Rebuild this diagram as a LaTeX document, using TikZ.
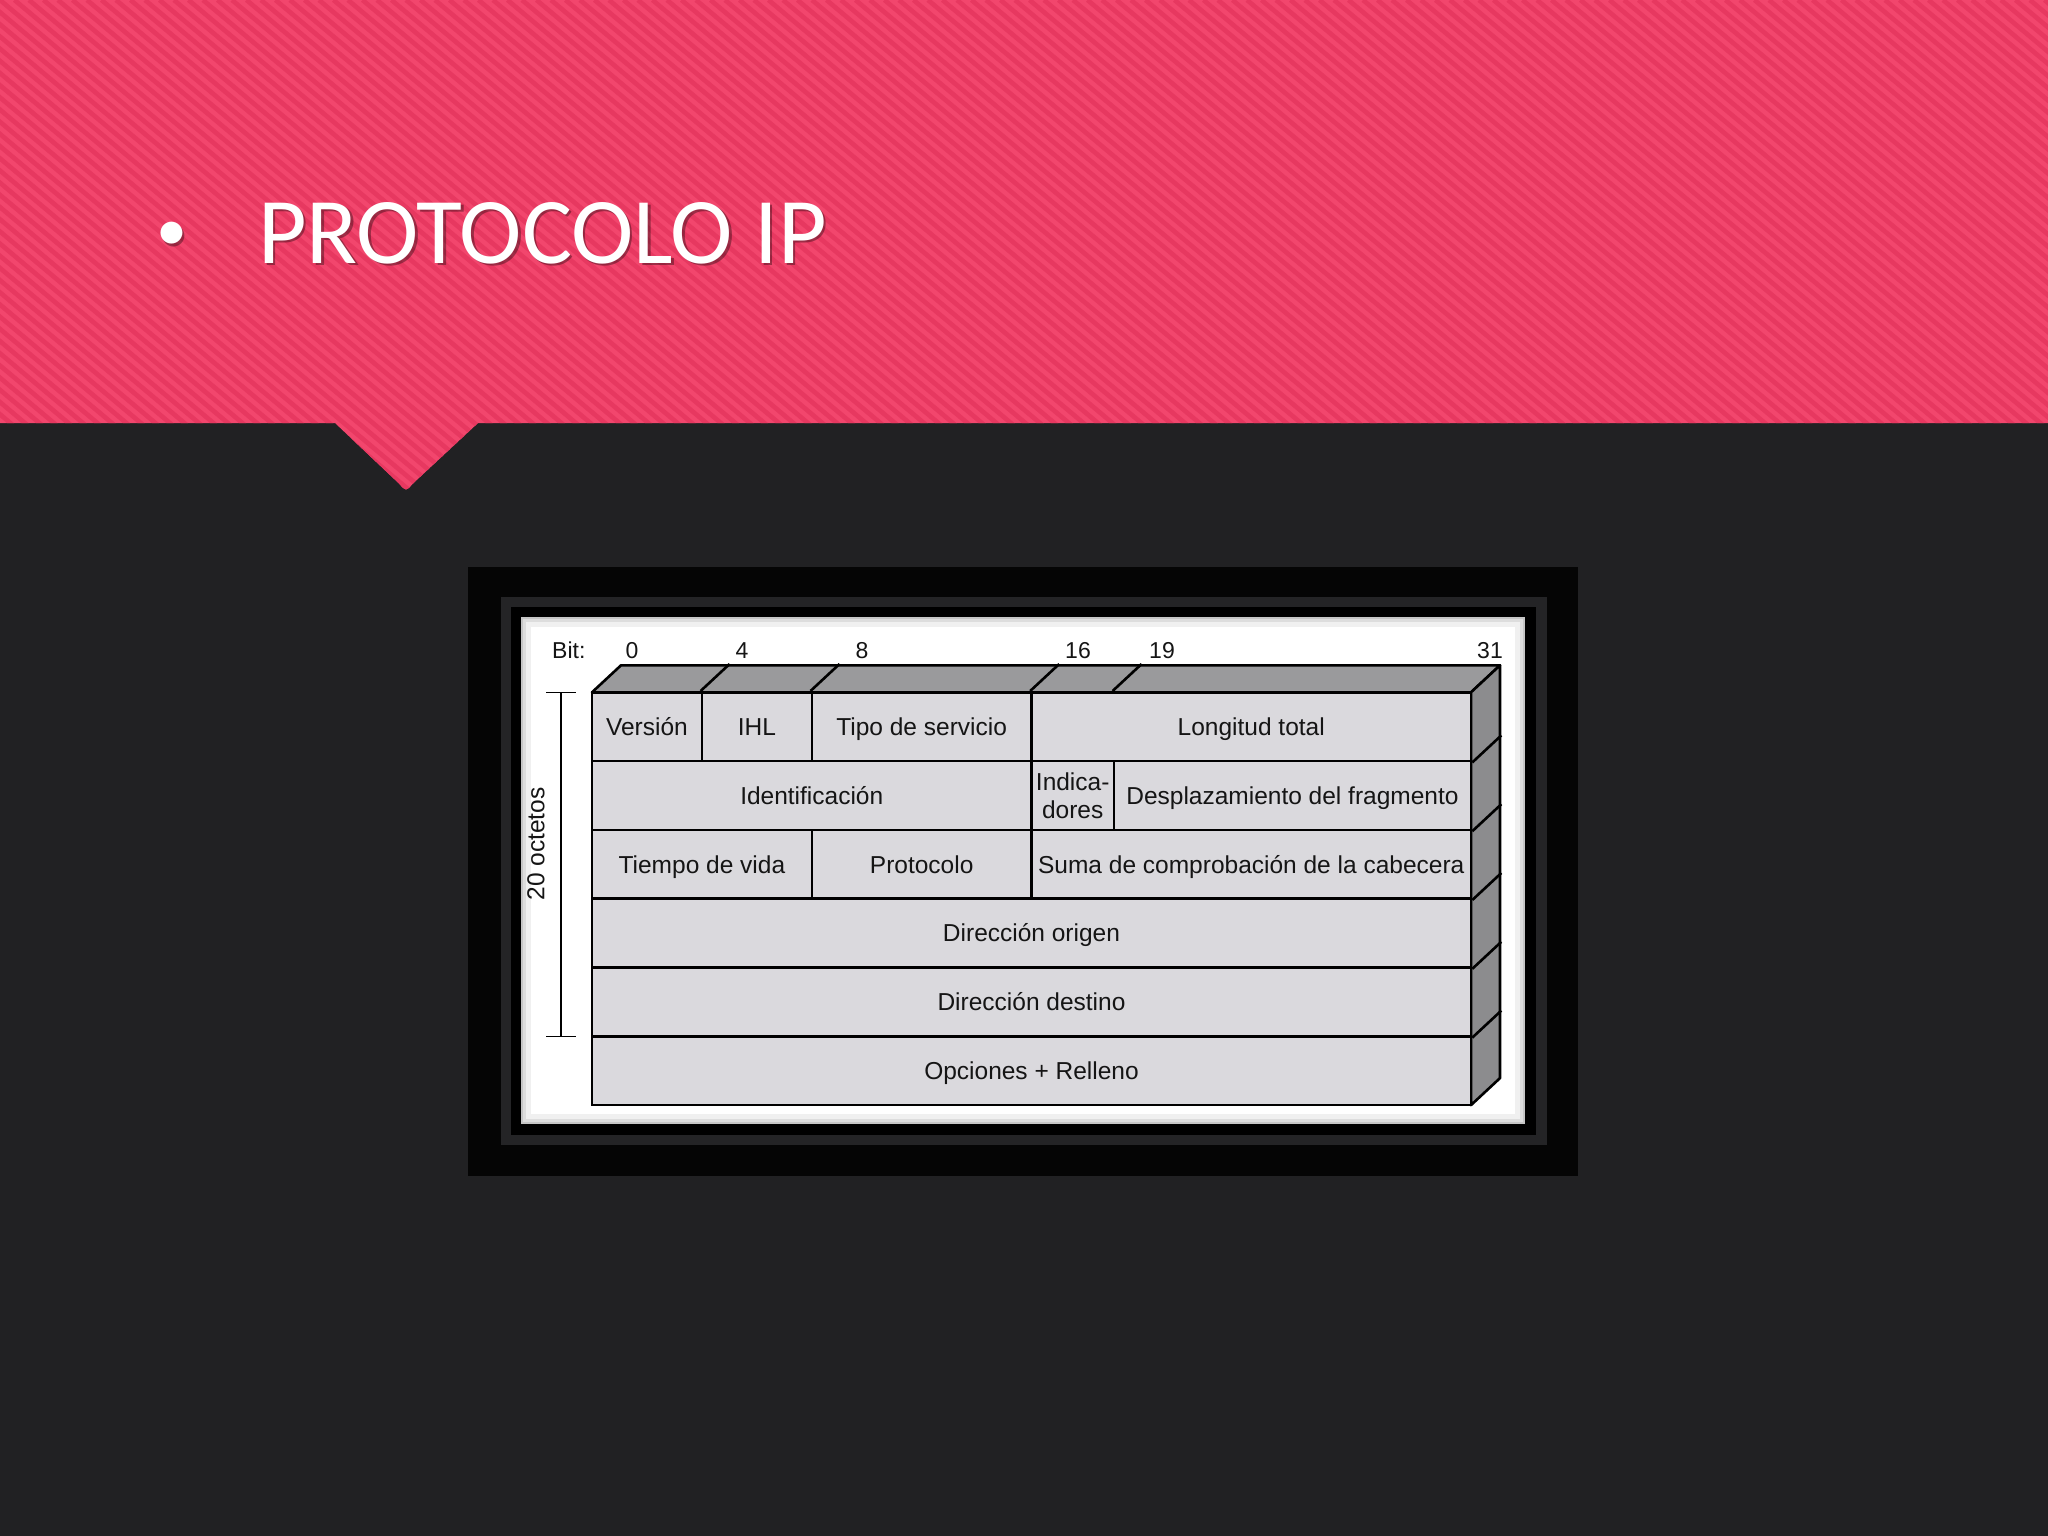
\documentclass[tikz,border=0pt]{standalone}
\usepackage{fontspec}
\setmainfont{Liberation Sans}
\newfontfamily\titlefont{Carlito}
\usetikzlibrary{calc}
\definecolor{bg}{HTML}{212123}
\definecolor{pinkA}{HTML}{F2466D}
\definecolor{pinkB}{HTML}{E73860}
\definecolor{cellgray}{HTML}{DAD9DD}
\definecolor{topface}{HTML}{9A9A9C}
\definecolor{sideface}{HTML}{8C8C8E}
\definecolor{band}{HTML}{242426}
\definecolor{ink}{HTML}{151515}
\begin{document}
\begin{tikzpicture}[x=1pt,y=-1pt,
  fieldbase/.style={draw=black, line width=2.6pt, fill=cellgray, inner sep=0pt,
    text=ink, align=center, font=\fontsize{24.5}{28}\selectfont,
    minimum height=68.8pt},
  field/.style={fieldbase, text height=17.5pt, text depth=0pt},
  face/.style={draw=black, line width=2.6pt, line join=round},
  bitlbl/.style={anchor=base, inner sep=0pt, text=ink, font=\fontsize{23}{26}\selectfont},
  ttl/.style={anchor=base west, inner sep=0pt, font=\titlefont\fontsize{94}{100}\selectfont},
  bul/.style={anchor=base, inner sep=0pt, font=\titlefont\fontsize{62}{70}\selectfont}
]
% background and bounding box
\useasboundingbox (0,0) rectangle (2048,1536);
\fill[bg] (0,0) rectangle (2048,1536);

% pink banner with pointer
\def\bannerpath{(0,0) -- (2048,0) -- (2048,423) -- (478,423) -- (413,483.5) .. controls (406,491.5) .. (399,483.5) -- (335,423) -- (0,423) -- cycle}
\fill[pinkA] \bannerpath;
\begin{scope}
  \clip \bannerpath;
  \foreach \i in {-45,...,145} {
    \draw[pinkB, line width=4.6pt] (\i*14.5,0) -- ++(595,500);
  }
\end{scope}

% title
\node[bul, text=black, opacity=.35] at (174,253) {•};
\node[ttl, text=black, opacity=.35] at (260.5,265.5) {PROTOCOLO IP};
\node[bul, text=white] (bullet) at (172,250.5) {•};
\node[ttl, text=white] (title) at (258,263) {PROTOCOLO IP};

% picture frame
\fill[black!98] (468,567) rectangle (1578,1176);
\fill[band] (501,597) rectangle (1547,1145);
\fill[black] (511,607) rectangle (1536,1135);
\fill[white] (521,617) rectangle (1525,1124);
\begin{scope}
  \clip (521,617) rectangle (1525,1124);
  \draw[black, opacity=.06, line width=20pt] (521,617) rectangle (1525,1124);
  \draw[black, opacity=.08, line width=10pt] (521,617) rectangle (1525,1124);
  \draw[black, opacity=.10, line width=4pt] (521,617) rectangle (1525,1124);
\end{scope}

% top and right faces of the block
\filldraw[face, fill=topface] (592,692.3) -- ++(29,-27) -- (1500,665.3) -- (1471,692.3) -- cycle;
\filldraw[face, fill=sideface] (1471,692.3) -- (1500,665.3) -- (1500,1078.1) -- (1471,1105.1) -- cycle;

% row 1
\node[field, minimum width=109.9pt] (ver) at (646.95,726.7) {Versión};
\node[field, minimum width=109.9pt] (ihl) at (756.85,726.7) {IHL};
\node[field, minimum width=219.7pt] (tos) at (921.65,726.7) {Tipo de servicio};
\node[field, minimum width=439.5pt] (len) at (1251.25,726.7) {Longitud total};
% row 2
\node[field, minimum width=439.5pt] (ident) at (811.75,795.5) {Identificación};
\node[fieldbase, minimum width=82.4pt, font=\fontsize{24.5}{28.5}\selectfont] (flags) at (1072.7,795.5) {Indica-\\dores};
\node[field, minimum width=357.1pt] (frag) at (1292.45,795.5) {Desplazamiento del fragmento};
% row 3
\node[field, minimum width=219.8pt] (ttlf) at (701.9,864.3) {Tiempo de vida};
\node[field, minimum width=219.7pt] (proto) at (921.65,864.3) {Protocolo};
\node[field, minimum width=439.5pt] (cks) at (1251.25,864.3) {Suma de comprobación de la cabecera};
% rows 4-6
\node[field, minimum width=879pt] (src) at (1031.5,933.1) {Dirección origen};
\node[field, minimum width=879pt] (dst) at (1031.5,1001.9) {Dirección destino};
\node[field, minimum width=879pt] (opt) at (1031.5,1070.7) {Opciones + Relleno};

% dividers on the top face
\foreach \n in {ihl,tos,len}{
  \draw[face] (\n.north west) -- ++(29,-27);
}
\draw[face] (frag.north west |- len.north) -- ++(29,-27);
% dividers on the right face
\foreach \n in {len,frag,cks,src,dst}{
  \draw[face] (\n.south east) -- ++(29,-27);
}

% bit labels
\node[anchor=base west, inner sep=0pt, text=ink, font=\fontsize{23}{26}\selectfont] (bitword) at (552,658) {Bit:};
\node[bitlbl] (b0) at (632,658) {0};
\node[bitlbl] (b4) at (742,658) {4};
\node[bitlbl] (b8) at (862,658) {8};
\node[bitlbl] (b16) at (1078,658) {16};
\node[bitlbl] (b19) at (1162,658) {19};
\node[bitlbl, anchor=base east] (b31) at (1503,658) {31};

% 20 octets bracket
\coordinate (brtop) at (561,692.3);
\coordinate (brbot) at (561,1036.3);
\draw[black, line width=1.4pt] (brtop) -- (brbot);
\draw[black, line width=1.4pt] ($(brtop)+(-15,0)$) -- ($(brtop)+(15,0)$);
\draw[black, line width=1.4pt] ($(brbot)+(-15,0)$) -- ($(brbot)+(15,0)$);
\node[rotate=90, inner sep=0pt, text=ink, font=\fontsize{24.5}{26}\selectfont] (oct) at (536,844) {20 octetos};
\end{tikzpicture}
\end{document}
